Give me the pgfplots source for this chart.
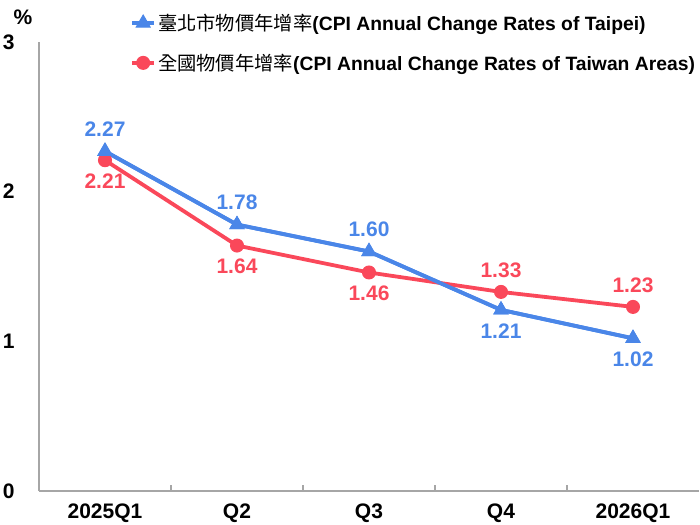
\documentclass[border=0pt]{standalone}
\usepackage{fontspec}
\setmainfont{Liberation Sans}
\newfontfamily\cjk{Noto Sans CJK TC}
\usepackage{pgfplots}
\pgfplotsset{compat=1.18}
\usetikzlibrary{calc}
\definecolor{cblue}{RGB}{74,134,232}
\definecolor{cred}{RGB}{250,72,90}
\definecolor{axgray}{RGB}{166,166,166}
\newcommand{\ff}{\fontsize{21bp}{25bp}\selectfont\bfseries}
\newcommand{\lf}{\fontsize{19.3bp}{23bp}\selectfont\bfseries}
\begin{document}
\begin{tikzpicture}[font=\ff]
\begin{axis}[name=ax, scale only axis, width=660bp, height=449bp,
  xmin=-0.5, xmax=4.5, ymin=0, ymax=3,
  axis x line*=bottom, axis y line*=left,
  axis line style={axgray, line width=1.2bp, -},
  xtick={0,1,2,3,4}, xticklabels={2025Q1,Q2,Q3,Q4,2026Q1},
  ytick={0,1,2,3},
  major tick length=0pt, tick align=inside,
  extra x ticks={0.5,1.5,2.5,3.5}, extra x tick labels={},
  extra x tick style={major tick length=6bp, tick style={axgray, line width=1.2bp}},
  ticklabel style={font=\ff},
  /pgf/number format/assume math mode=true,
  yticklabel style={xshift=-21bp},
  xticklabel style={yshift=-9bp},
  clip=false,
  legend style={at={(0.138,1.067)}, anchor=north west, draw=none, fill=none,
    inner sep=0pt, row sep=18bp, font=\lf,
    /tikz/every even column/.append style={column sep=0bp}},
  legend cell align=left,
  legend image code/.code={\draw[mark repeat=2,mark phase=2] plot coordinates {(0bp,0bp)(11bp,0bp)(22bp,0bp)};},
]
\addplot[cblue, line width=3.8bp, mark=triangle*, mark size=8bp, mark options={solid, line width=1bp}]
  coordinates {(0,2.27)(1,1.78)(2,1.60)(3,1.21)(4,1.02)};
\addlegendentry{{\cjk\mdseries 臺北市物價年增率}(CPI Annual Change Rates of Taipei)}
\addplot[cred, line width=3.8bp, mark=*, mark size=6.5bp, mark options={solid, line width=1bp}]
  coordinates {(0,2.21)(1,1.64)(2,1.46)(3,1.33)(4,1.23)};
\addlegendentry{{\cjk\mdseries 全國物價年增率}(CPI Annual Change Rates of Taiwan Areas)}
\addplot[cblue, line width=3.8bp, mark=triangle*, mark size=8bp, mark options={solid, line width=1bp}, forget plot]
  coordinates {(0,2.27)(1,1.78)(2,1.60)(3,1.21)(4,1.02)};
% labels
\addplot[draw=none, no marks, forget plot, nodes near coords, point meta=explicit symbolic,
  every node near coord/.style={anchor=center, yshift=22bp, text=cblue, font=\ff}]
  coordinates {(0,2.27)[2.27] (1,1.78)[1.78] (2,1.60)[1.60]};
\addplot[draw=none, no marks, forget plot, nodes near coords, point meta=explicit symbolic,
  every node near coord/.style={anchor=center, yshift=-21bp, text=cblue, font=\ff}]
  coordinates {(3,1.21)[1.21] (4,1.02)[1.02]};
\addplot[draw=none, no marks, forget plot, nodes near coords, point meta=explicit symbolic,
  every node near coord/.style={anchor=center, yshift=-21bp, text=cred, font=\ff}]
  coordinates {(0,2.21)[2.21] (1,1.64)[1.64] (2,1.46)[1.46]};
\addplot[draw=none, no marks, forget plot, nodes near coords, point meta=explicit symbolic,
  every node near coord/.style={anchor=center, yshift=22bp, text=cred, font=\ff}]
  coordinates {(3,1.33)[1.33] (4,1.23)[1.23]};
\end{axis}
\node at ($(ax.north west)+(-16bp,25bp)$) {\%};
\pgfresetboundingbox
\path ($(ax.south west)+(-39bp,-34bp)$) rectangle ($(ax.south west)+(661bp,491bp)$);
\end{tikzpicture}
\end{document}
